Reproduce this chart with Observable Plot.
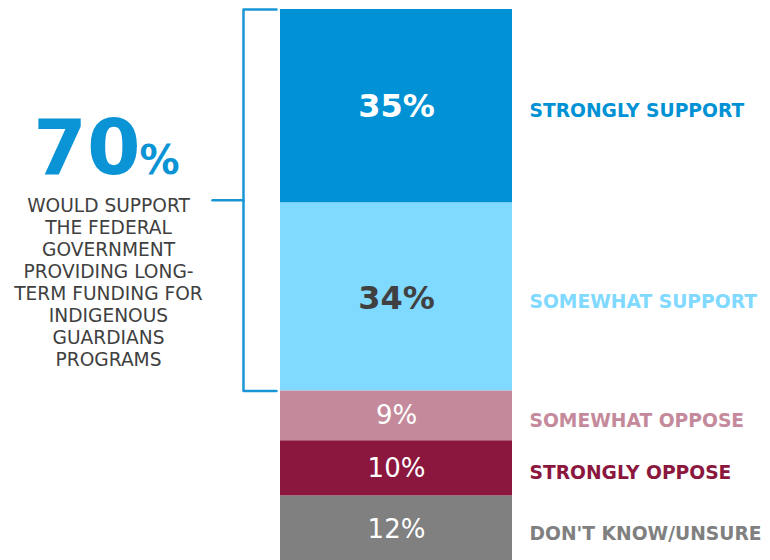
<!DOCTYPE html>
<html>
<head>
<meta charset="utf-8">
<script src="https://cdn.jsdelivr.net/npm/d3@7"></script>
<script src="https://cdn.jsdelivr.net/npm/@observablehq/plot@0.6"></script>
<style>
  html, body { margin: 0; padding: 0; background: #fff; }
  #chart svg { display: block; }
</style>
</head>
<body>
<div id="chart"></div>
<script>
// ---- data ----
const categories = ["Strongly support", "Somewhat support", "Somewhat oppose", "Strongly oppose", "Don't know/Unsure"];
const labels = ["STRONGLY SUPPORT", "SOMEWHAT SUPPORT", "SOMEWHAT OPPOSE", "STRONGLY OPPOSE", "DON'T KNOW/UNSURE"];
const values = [35, 34, 9, 10, 12];
const headline = "70";
const headlineText = ["WOULD SUPPORT", "THE FEDERAL", "GOVERNMENT", "PROVIDING LONG-", "TERM FUNDING FOR", "INDIGENOUS", "GUARDIANS", "PROGRAMS"];

// ---- styles / layout ----
const palette = ["#0092d4", "#80d9ff", "#c48a9b", "#8b173e", "#808080"];
const W = 770, H = 560;
const BAR_L = 280, BAR_R = 512, BAR_MID = (BAR_L + BAR_R) / 2;
const LEGEND_X = 529;
const BRACKET_X = 243, BRACKET_TICK = 276, BRACKET_ARM = 212;
const TEXT_CX = 108;

let cum = 0;
const rows = categories.map((c, i) => {
  const r = {category: c, label: labels[i], value: values[i], y1: cum, y2: cum + values[i], idx: i};
  r.mid = (r.y1 + r.y2) / 2;
  cum += values[i];
  return r;
});
const supportEnd = values[0] + values[1];
const supportMid = supportEnd / 2;
const bracket = [
  {x: BRACKET_TICK, y: 0}, {x: BRACKET_X, y: 0}, {x: BRACKET_X, y: supportEnd}, {x: BRACKET_TICK, y: supportEnd}
];
const arm = [{x: BRACKET_ARM, y: supportMid}, {x: BRACKET_X, y: supportMid}];

const plot = Plot.plot({
  width: W, height: H,
  marginTop: 0, marginBottom: 0, marginLeft: 0, marginRight: 0,
  style: {fontFamily: "DejaVu Sans, Verdana, sans-serif", background: "#fff"},
  x: {domain: [0, W], range: [0, W], axis: null},
  y: {domain: [0, 100], range: [9, 562], axis: null},
  color: {domain: categories, range: palette},
  marks: [
    Plot.rectY(rows, {x1: () => BAR_L, x2: () => BAR_R, y1: "y1", y2: "y2", fill: "category"}),
    Plot.text(rows.filter(d => d.idx === 0), {x: () => BAR_MID, y: "mid", text: d => d.value + "%", fill: "#ffffff", fontWeight: "bold", fontSize: 32}),
    Plot.text(rows.filter(d => d.idx === 1), {x: () => BAR_MID, y: "mid", text: d => d.value + "%", fill: "#404040", fontWeight: "bold", fontSize: 32, dy: 2}),
    Plot.text(rows.filter(d => d.idx > 1), {x: () => BAR_MID, y: "mid", text: d => d.value + "%", fill: "#ffffff", fontSize: 26}),
    Plot.text(rows, {x: () => LEGEND_X, y: "mid", text: "label", fill: "category", textAnchor: "start", fontWeight: "bold", fontSize: 18.7, dy: 5}),
    Plot.line(bracket, {x: "x", y: "y", stroke: "#1a96d6", strokeWidth: 2.5, curve: "linear"}),
    Plot.line(arm, {x: "x", y: "y", stroke: "#1a96d6", strokeWidth: 2.5}),
    Plot.text([headline], {x: () => 140, y: () => supportMid, text: d => d, fill: "#0a93d5", fontWeight: "bold", fontSize: 77, textAnchor: "end", lineAnchor: "bottom", dy: -26}),
    Plot.text(["%"], {x: () => 139, y: () => supportMid, text: d => d, fill: "#0a93d5", fontWeight: "bold", fontSize: 40, textAnchor: "start", lineAnchor: "bottom", dy: -26}),
    Plot.text([headlineText.join("\n")], {x: () => TEXT_CX, y: () => supportMid, text: d => d, fill: "#404040", fontSize: 18.6, lineHeight: 1.185, textAnchor: "middle", lineAnchor: "top", dy: -4})
  ]
});
document.getElementById("chart").appendChild(plot);
</script>
</body>
</html>
